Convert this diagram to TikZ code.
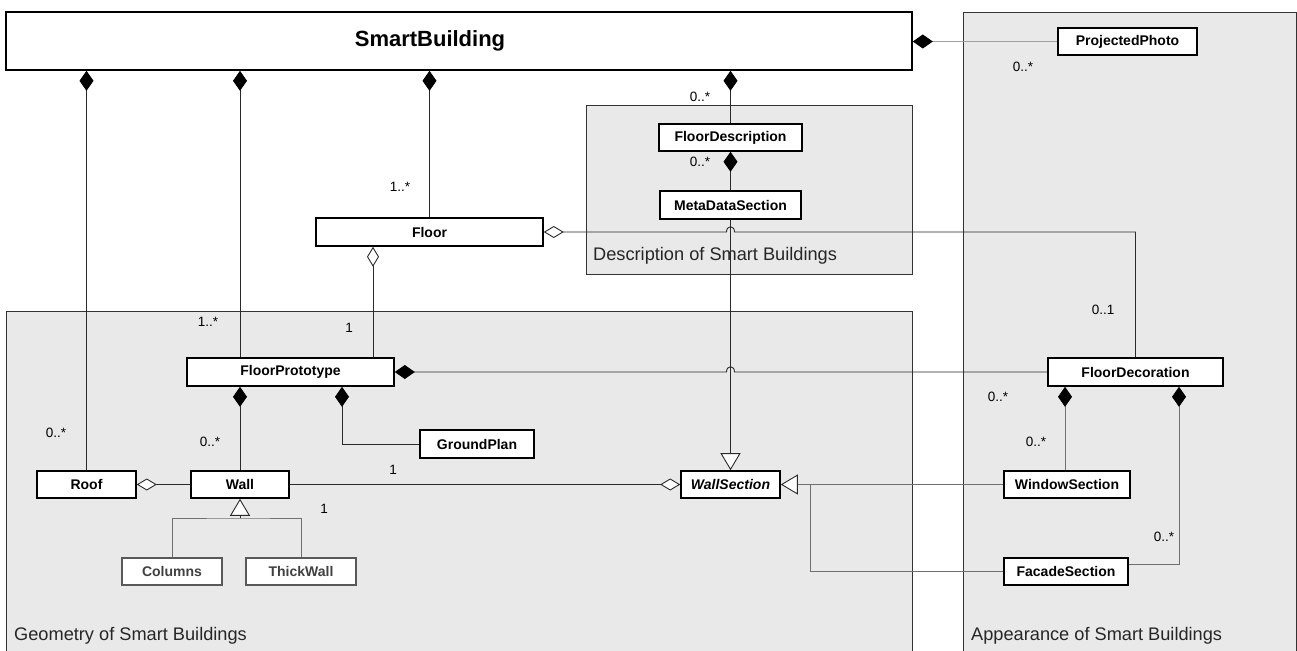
\documentclass[tikz,border=0pt]{standalone}
\usepackage{fontspec}
\setmainfont{Liberation Sans}
\usetikzlibrary{arrows.meta,calc}
\definecolor{pkg}{HTML}{E9E9E9}
\definecolor{ln}{HTML}{2A2A2A}
\definecolor{lgray}{HTML}{707070}
\definecolor{llgray}{HTML}{A0A0A0}
\begin{document}
\begin{tikzpicture}[x=1pt,y=-1pt,
 cls/.style={draw=black, line width=1.6pt, fill=white, font=\fontsize{14}{16}\selectfont\bfseries, inner sep=0pt, minimum height=27pt},
 subcls/.style={cls, draw=black!65, text=black!75},
 pkgbox/.style={draw=black!80, line width=0.8pt, fill=pkg},
 pkglabel/.style={font=\fontsize{18.2}{21}\selectfont, text=black!85, anchor=west, inner sep=0pt},
 mult/.style={font=\fontsize{13.5}{15}\selectfont, inner sep=0pt},
 conn/.style={line width=0.9pt, draw=ln},
 comp/.style={conn, -{Diamond[length=20pt,width=14pt,color=black,fill=black]}},
 aggr/.style={conn, -{Diamond[open,length=20pt,width=12pt,color=ln,fill=white]}},
 gen/.style={conn, -{Triangle[open,length=17pt,width=20pt,color=ln,fill=white]}},
]
\useasboundingbox[fill=white] (0,0) rectangle (1297,650);

% packages
\path[pkgbox] (6,311) rectangle (912,656);
\node[pkglabel] (geolbl) at (14,636) {Geometry of Smart Buildings};
\path[pkgbox] (586,105) rectangle (912,274);
\node[pkglabel] (desclbl) at (593,256) {Description of Smart Buildings};
\path[pkgbox] (963,12) rectangle (1296,656);
\node[pkglabel] (applbl) at (971,636) {Appearance of Smart Buildings};

% classes
\node[cls, minimum width=906pt, minimum height=58pt, font=\fontsize{22}{26}\selectfont\bfseries] (sb) at (459,41) {SmartBuilding\hspace*{58pt}};
\node[cls, minimum width=139pt] (pp) at (1127.5,41.5) {ProjectedPhoto};
\node[cls, minimum width=143pt] (fd) at (730.5,137.5) {FloorDescription};
\node[cls, minimum width=141pt, minimum height=28pt] (mds) at (730.5,205) {MetaDataSection};
\node[cls, minimum width=227pt, minimum height=28pt] (floor) at (429.5,232) {Floor};
\node[cls, minimum width=207pt, minimum height=28pt] (fp) at (290.5,372) {FloorPrototype};
\node[cls, minimum width=114pt, minimum height=28pt] (gp) at (477,444) {GroundPlan};
\node[cls, minimum width=99pt] (roof) at (86.5,484.5) {Roof};
\node[cls, minimum width=98pt] (wall) at (240,484.5) {Wall};
\node[cls, minimum width=99pt, font=\fontsize{14}{16}\selectfont\bfseries\itshape] (ws) at (730.5,484.5) {WallSection};
\node[subcls, minimum width=100pt] (cols) at (172,571.5) {Columns};
\node[subcls, minimum width=110pt] (tw) at (301,571.5) {ThickWall};
\node[cls, minimum width=175pt, minimum height=28pt] (fdec) at (1135.5,372) {FloorDecoration};
\node[cls, minimum width=126pt] (win) at (1067,484.5) {WindowSection};
\node[cls, minimum width=124pt] (fac) at (1066,571.5) {FacadeSection};

% helper coordinates
\coordinate (c373) at (373,0);
\coordinate (c342) at (342,0);
\coordinate (c1065) at (1065,0);
\coordinate (c1179) at (1179,0);
\coordinate (c810) at (810,0);
\coordinate (gen) at (240,518);

% connectors
\draw[comp] (roof.north) -- (roof.north |- sb.south);
\draw[comp] (fp.north -| wall.north) -- (wall.north |- sb.south);
\draw[comp] (floor.north) -- (floor.north |- sb.south);
\draw[comp] (fd.north) -- (fd.north |- sb.south);
\draw[comp, draw=llgray] (pp.west) -- (sb.east |- pp.west);
\draw[comp] (mds.north) -- (fd.south);
\draw[gen] (mds.south) -- (ws.north);
\draw[aggr] (fdec.north) |- ($(mds.south |- floor.east)+(4,0)$) .. controls +(0,-7) and +(0,-7) .. ($(mds.south |- floor.east)+(-4,0)$) -- (floor.east);
\draw[aggr] (fp.north -| c373) -- (floor.south -| c373);
\draw[comp] (fdec.west) -- ($(mds.south |- fp.east)+(4,0)$) .. controls +(0,-7) and +(0,-7) .. ($(mds.south |- fp.east)+(-4,0)$) -- (fp.east);
\draw[comp] (wall.north) -- (wall.north |- fp.south);
\draw[comp] (gp.west) -| (c342 |- fp.south);
\draw[aggr] (wall.west) -- (roof.east);
\draw[aggr] (wall.east) -- (ws.west);
\draw[conn, draw=lgray] (cols.north) |- (gen) -| (tw.north);
\draw[gen] (gen) -- (wall.south);
\draw[gen, draw=lgray] (win.west) -- (ws.east);
\draw[conn, draw=lgray] (fac.west) -| (c810 |- ws.east);
\draw[comp, draw=lgray] (win.north -| c1065) -- (fdec.south -| c1065);
\draw[comp, draw=lgray] ([yshift=7.5pt]fac.east) -| (c1179 |- fdec.south);

% multiplicities
\node[mult] (m1) at (700,97) {0..*};
\node[mult] (m2) at (700,162) {0..*};
\node[mult] (m3) at (400,187) {1..*};
\node[mult] (m4) at (208,322) {1..*};
\node[mult] (m5) at (349,328) {1};
\node[mult] (m6) at (56,433) {0..*};
\node[mult] (m7) at (210,442) {0..*};
\node[mult] (m8) at (393,470) {1};
\node[mult] (m9) at (324,509) {1};
\node[mult] (m10) at (1023,67) {0..*};
\node[mult] (m11) at (1103,310) {0..1};
\node[mult] (m12) at (998,397) {0..*};
\node[mult] (m13) at (1036,442) {0..*};
\node[mult] (m14) at (1164,537) {0..*};
\end{tikzpicture}
\end{document}
